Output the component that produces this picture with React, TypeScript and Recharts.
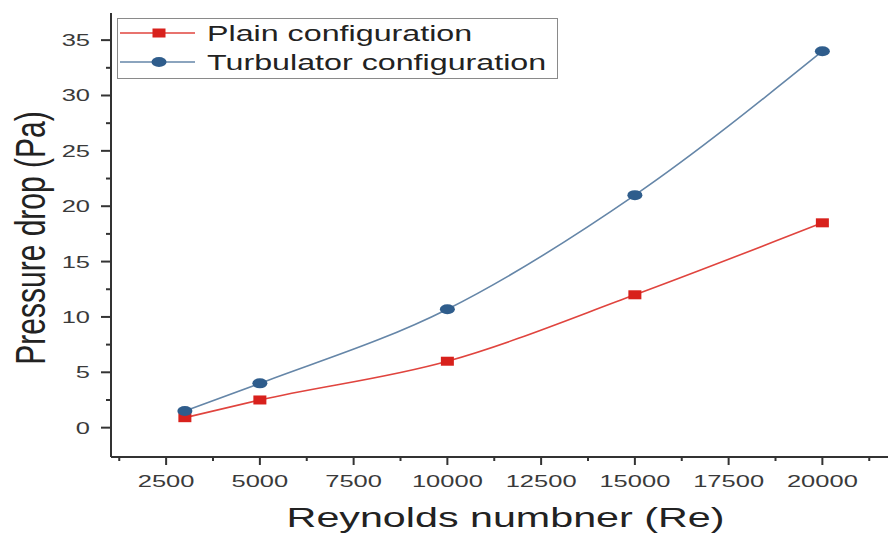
import React from "react";
import {
  Legend,
  Line,
  LineChart,
  XAxis,
  YAxis,
} from "recharts";

const reynolds = [3000, 5000, 10000, 15000, 20000];
const plainDrop = [0.9, 2.5, 6.0, 12.0, 18.5];
const turbulatorDrop = [1.5, 4.0, 10.7, 21.0, 34.0];

const xMajorTicks = [2500, 5000, 7500, 10000, 12500, 15000, 17500, 20000];
const xAllTicks = [
  1250, 2500, 3750, 5000, 6250, 7500, 8750, 10000, 11250, 12500, 13750,
  15000, 16250, 17500, 18750, 20000, 21250,
];
const yMajorTicks = [0, 5, 10, 15, 20, 25, 30, 35];
const yAllTicks = [
  0, 2.5, 5, 7.5, 10, 12.5, 15, 17.5, 20, 22.5, 25, 27.5, 30, 32.5, 35,
];

const seriesNames = ["Plain configuration", "Turbulator configuration"];

const FONT = '"Liberation Sans", Arial, sans-serif';
const AXIS_COLOR = "#333";
const PLAIN_MARK = "#d8211c";
const PLAIN_LINE = "#e0443e";
const TURB_MARK = "#2f5d8c";
const TURB_LINE = "#6586a8";
// the figure's lettering is wide, so every label is stretched sideways
const STRETCH = 1.5;

const chartData = reynolds.map((re, i) => ({
  re,
  plain: plainDrop[i],
  turbulator: turbulatorDrop[i],
}));

function XTick({ x, y, payload }: any) {
  const major = xMajorTicks.includes(payload.value);
  return (
    <g>
      <line x1={x} y1={y} x2={x} y2={y + (major ? 8 : 4)} stroke={AXIS_COLOR} strokeWidth={2} />
      {major && (
        <text
          transform={`translate(${x},${y + 30}) scale(${STRETCH},1)`}
          textAnchor="middle"
          fontFamily={FONT}
          fontSize={17}
          fill="#3a3a3a"
        >
          {payload.value}
        </text>
      )}
    </g>
  );
}

function YTick({ x, y, payload }: any) {
  const major = yMajorTicks.includes(payload.value);
  return (
    <g>
      <line x1={x - (major ? 10 : 5)} y1={y} x2={x} y2={y} stroke={AXIS_COLOR} strokeWidth={2} />
      {major && (
        <text
          transform={`translate(${x - 21},${y + 6}) scale(${STRETCH},1)`}
          textAnchor="end"
          fontFamily={FONT}
          fontSize={17}
          fill="#3a3a3a"
        >
          {payload.value}
        </text>
      )}
    </g>
  );
}

function XTitle({ viewBox }: any) {
  const cx = viewBox.x + viewBox.width / 2 + 6;
  return (
    <text
      transform={`translate(${cx},527) scale(${STRETCH},1)`}
      textAnchor="middle"
      fontFamily={FONT}
      fontSize={27.5}
      fill="#222"
    >
      Reynolds numbner (Re)
    </text>
  );
}

function YTitle({ viewBox }: any) {
  const cy = viewBox.y + viewBox.height / 2 + 3;
  return (
    <text
      transform={`translate(45,${cy}) rotate(-90) scale(1,${STRETCH - 0.1})`}
      textAnchor="middle"
      fontFamily={FONT}
      fontSize={30}
      fill="#222"
    >
      Pressure drop (Pa)
    </text>
  );
}

function SquareDot({ cx, cy }: any) {
  if (cx == null || cy == null) return null;
  return <rect x={cx - 6.5} y={cy - 4.5} width={13} height={9} fill={PLAIN_MARK} />;
}

function RoundDot({ cx, cy }: any) {
  if (cx == null || cy == null) return null;
  return <ellipse cx={cx} cy={cy} rx={7.5} ry={5} fill={TURB_MARK} />;
}

function LegendBox() {
  const rows = [
    { name: seriesNames[0], line: PLAIN_LINE, square: true },
    { name: seriesNames[1], line: TURB_LINE, square: false },
  ];
  return (
    <svg width={441} height={61} style={{ display: "block" }}>
      <rect x={0.5} y={0.5} width={440} height={60} fill="#fff" stroke="#8a8a8a" strokeWidth={1} />
      {rows.map((row, i) => {
        const cy = 15 + i * 29;
        return (
          <g key={row.name}>
            <line x1={3} y1={cy} x2={78} y2={cy} stroke={row.line} strokeWidth={1.6} />
            {row.square ? (
              <rect x={35.5} y={cy - 4.5} width={13} height={9} fill={PLAIN_MARK} />
            ) : (
              <ellipse cx={42} cy={cy} rx={7.5} ry={5} fill={TURB_MARK} />
            )}
            <text
              transform={`translate(90,${cy + 8}) scale(${STRETCH},1)`}
              fontFamily={FONT}
              fontSize={21.5}
              fill="#222"
            >
              {row.name}
            </text>
          </g>
        );
      })}
    </svg>
  );
}

export default function App() {
  return (
    <div style={{ position: "absolute", left: 0, top: 0, background: "#fff" }}>
      <LineChart
        width={888}
        height={534}
        data={chartData}
        margin={{ top: 13, right: 0, bottom: 0, left: 0 }}
      >
        <XAxis
          xAxisId="bottom"
          dataKey="re"
          type="number"
          domain={[1030, 21750]}
          ticks={xAllTicks}
          interval={0}
          height={77}
          tickSize={0}
          tickMargin={0}
          tickLine={false}
          tick={<XTick />}
          axisLine={{ stroke: AXIS_COLOR, strokeWidth: 2 }}
          label={{ content: <XTitle /> }}
          allowDataOverflow
        />
        <XAxis
          xAxisId="top"
          orientation="top"
          dataKey="re"
          type="number"
          domain={[1030, 21750]}
          height={0}
          tick={false}
          tickLine={false}
          axisLine={{ stroke: "#6a6a6a", strokeWidth: 2.5 }}
          allowDataOverflow
        />
        <YAxis
          yAxisId="left"
          type="number"
          domain={[-2.65, 37.45]}
          ticks={yAllTicks}
          interval={0}
          width={111}
          tickSize={0}
          tickMargin={0}
          tickLine={false}
          tick={<YTick />}
          axisLine={{ stroke: AXIS_COLOR, strokeWidth: 2 }}
          label={{ content: <YTitle /> }}
          allowDataOverflow
        />
        <Legend
          layout="vertical"
          align="center"
          verticalAlign="middle"
          content={<LegendBox />}
          wrapperStyle={{ left: 117, top: 18, width: 441, height: 61 }}
        />
        <Line
          xAxisId="bottom"
          yAxisId="left"
          type="monotone"
          dataKey="plain"
          name={seriesNames[0]}
          stroke={PLAIN_LINE}
          strokeWidth={1.6}
          dot={<SquareDot />}
          activeDot={false}
          isAnimationActive={false}
        />
        <Line
          xAxisId="bottom"
          yAxisId="left"
          type="monotone"
          dataKey="turbulator"
          name={seriesNames[1]}
          stroke={TURB_LINE}
          strokeWidth={1.6}
          dot={<RoundDot />}
          activeDot={false}
          isAnimationActive={false}
        />
      </LineChart>
    </div>
  );
}
